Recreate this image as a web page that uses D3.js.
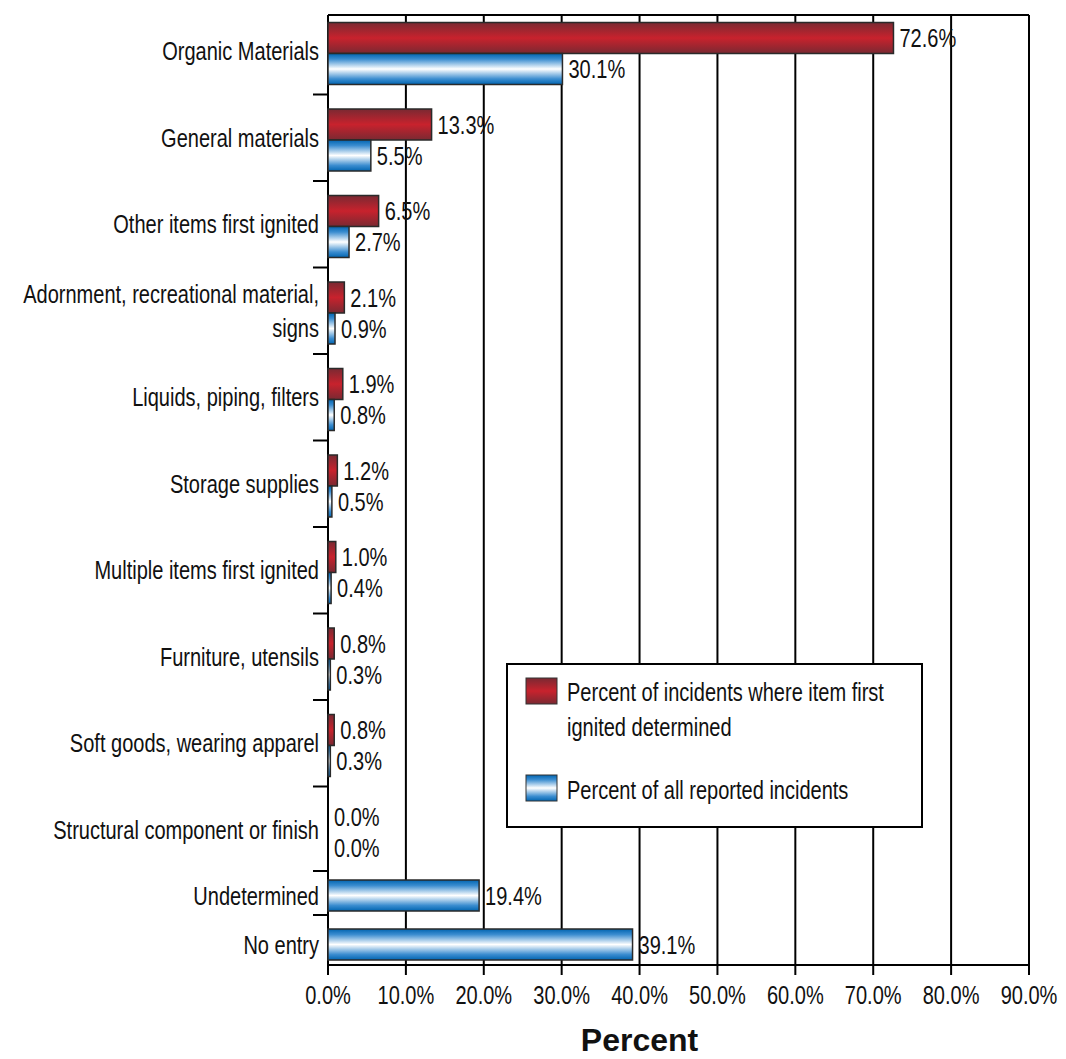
<!DOCTYPE html>
<html>
<head>
<meta charset="utf-8">
<script src="https://cdn.jsdelivr.net/npm/d3@7"></script>
<style>
  html, body { margin: 0; padding: 0; background: #fff; }
  svg { display: block; }
  text { font-family: 'Liberation Sans', Arial, sans-serif; fill: #111; }
</style>
</head>
<body>
<svg id="chart" width="1066" height="1059"></svg>
<script>
// Item first ignited, grouped by category
const categories = [
  "Organic Materials",
  "General materials",
  "Other items first ignited",
  "Adornment, recreational material,\nsigns",
  "Liquids, piping, filters",
  "Storage supplies",
  "Multiple items first ignited",
  "Furniture, utensils",
  "Soft goods, wearing apparel",
  "Structural component or finish"
];
const pctDetermined = [72.6, 13.3, 6.5, 2.1, 1.9, 1.2, 1.0, 0.8, 0.8, 0.0];
const pctAllReported = [30.1, 5.5, 2.7, 0.9, 0.8, 0.5, 0.4, 0.3, 0.3, 0.0];

// Rows that only have a share of all reported incidents
const otherCategories = ["Undetermined", "No entry"];
const otherAllReported = [19.4, 39.1];

const xTicks = [0, 10, 20, 30, 40, 50, 60, 70, 80, 90];
const seriesNames = [
  "Percent of incidents where item first\nignited determined",
  "Percent of all reported incidents"
];
const axisTitle = "Percent";

const svg = d3.select("#chart");
const plotLeft = 328, plotRight = 1029, plotTop = 15, plotBottom = 965;
const barH = 31;
const fs = 26;         // label font size
const narrow = 0.77;   // horizontal squeeze for the condensed lettering

const x = d3.scaleLinear().domain([0, 90]).range([plotLeft, plotRight]);
const y = d3.scaleBand().domain(categories).range([8, 873]);
const yOther = d3.scaleBand().domain(otherCategories).range([871, 969]);

// Place condensed text at (px, py)
function placeText(sel, px, py) {
  return sel.attr("transform", (d, i) => {
    const tx = typeof px === "function" ? px(d, i) : px;
    const ty = typeof py === "function" ? py(d, i) : py;
    return `translate(${tx},${ty}) scale(${narrow},1)`;
  }).attr("font-size", fs);
}

// Gradients for the bar fills
const defs = svg.append("defs");
function vGrad(id, stops) {
  const g = defs.append("linearGradient").attr("id", id)
    .attr("x1", 0).attr("y1", 0).attr("x2", 0).attr("y2", 1);
  stops.forEach(([o, c]) => g.append("stop").attr("offset", o).attr("stop-color", c));
}
vGrad("gradRed", [[0, "#7a2932"], [0.5, "#c8222d"], [1, "#7a2932"]]);
vGrad("gradBlue", [[0, "#0064b0"], [0.18, "#3b8dd0"], [0.5, "#ffffff"], [0.82, "#3b8dd0"], [1, "#0064b0"]]);

// Vertical gridlines
svg.append("g").selectAll("line").data(xTicks).join("line")
  .attr("x1", d => x(d)).attr("x2", d => x(d))
  .attr("y1", plotTop).attr("y2", plotBottom + 10)
  .attr("stroke", "#000").attr("stroke-width", 2);

// Top frame line
svg.append("line")
  .attr("x1", plotLeft).attr("x2", plotRight)
  .attr("y1", plotTop).attr("y2", plotTop)
  .attr("stroke", "#000").attr("stroke-width", 2);

// Bottom axis line + tick labels
svg.append("line")
  .attr("x1", plotLeft).attr("x2", plotRight)
  .attr("y1", plotBottom).attr("y2", plotBottom)
  .attr("stroke", "#000").attr("stroke-width", 2);
placeText(svg.append("g").selectAll("text").data(xTicks).join("text"), d => x(d), 1004)
  .attr("text-anchor", "middle")
  .text(d => d.toFixed(1) + "%");

// Left axis line and category separator ticks
svg.append("line")
  .attr("x1", plotLeft).attr("x2", plotLeft)
  .attr("y1", plotTop).attr("y2", plotBottom + 10)
  .attr("stroke", "#000").attr("stroke-width", 2);
const sepYs = categories.slice(1).map(c => y(c))
  .concat([yOther(otherCategories[0]), yOther(otherCategories[1]) - 5]);
svg.append("g").selectAll("line").data(sepYs).join("line")
  .attr("x1", plotLeft - 15).attr("x2", plotLeft)
  .attr("y1", d => d).attr("y2", d => d)
  .attr("stroke", "#000").attr("stroke-width", 2);

// Legend
const lg = svg.append("g");
lg.append("rect").attr("x", 507).attr("y", 664).attr("width", 415).attr("height", 163)
  .attr("fill", "#fff").attr("stroke", "#000").attr("stroke-width", 2);
lg.append("rect").attr("x", 526).attr("y", 678).attr("width", 31).attr("height", 26)
  .attr("fill", "url(#gradRed)").attr("stroke", "#333").attr("stroke-width", 1);
lg.append("rect").attr("x", 526).attr("y", 775).attr("width", 31).attr("height", 26)
  .attr("fill", "url(#gradBlue)").attr("stroke", "#333").attr("stroke-width", 1);
seriesNames[0].split("\n").forEach((t, i) => {
  placeText(lg.append("text"), 567, 701 + i * 35).text(t);
});
placeText(lg.append("text"), 567, 799).text(seriesNames[1]);

// Bars for the main categories
const rows = categories.map((c, i) => ({ c, det: pctDetermined[i], all: pctAllReported[i] }));
const gMain = svg.append("g");
const redY = d => y(d.c) + 14.5;
const blueY = d => y(d.c) + 14.5 + barH;

gMain.selectAll("rect.det").data(rows).join("rect").attr("class", "det")
  .attr("x", x(0)).attr("y", redY)
  .attr("width", d => x(d.det) - x(0)).attr("height", barH)
  .attr("fill", "url(#gradRed)")
  .attr("stroke", d => d.det > 0 ? "#2a2a2a" : "none").attr("stroke-width", 1.5);
gMain.selectAll("rect.all").data(rows).join("rect").attr("class", "all")
  .attr("x", x(0)).attr("y", blueY)
  .attr("width", d => x(d.all) - x(0)).attr("height", barH)
  .attr("fill", "url(#gradBlue)")
  .attr("stroke", d => d.all > 0 ? "#2a2a2a" : "none").attr("stroke-width", 1.5);

placeText(gMain.selectAll("text.det").data(rows).join("text").attr("class", "det"),
    d => x(d.det) + 6, d => redY(d) + barH / 2)
  .attr("dy", "0.35em")
  .text(d => d.det.toFixed(1) + "%");
placeText(gMain.selectAll("text.all").data(rows).join("text").attr("class", "all"),
    d => x(d.all) + 6, d => blueY(d) + barH / 2)
  .attr("dy", "0.35em")
  .text(d => d.all.toFixed(1) + "%");

// Category labels
const catLabels = svg.append("g");
rows.forEach(d => {
  const lines = d.c.split("\n");
  const cy = y(d.c) + y.bandwidth() / 2;
  lines.forEach((t, i) => {
    placeText(catLabels.append("text"), 319, cy + (i - (lines.length - 1) / 2) * 34)
      .attr("dy", "0.35em").attr("text-anchor", "end")
      .text(t);
  });
});

// Single-series rows
const otherRows = otherCategories.map((c, i) => ({ c, all: otherAllReported[i] }));
const oy = d => yOther(d.c) + (yOther.bandwidth() - barH) / 2;
svg.append("g").selectAll("rect").data(otherRows).join("rect")
  .attr("x", x(0)).attr("y", oy)
  .attr("width", d => x(d.all) - x(0)).attr("height", barH)
  .attr("fill", "url(#gradBlue)").attr("stroke", "#2a2a2a").attr("stroke-width", 1.5);
placeText(svg.append("g").selectAll("text").data(otherRows).join("text"),
    d => x(d.all) + 6, d => oy(d) + barH / 2)
  .attr("dy", "0.35em")
  .text(d => d.all.toFixed(1) + "%");
placeText(svg.append("g").selectAll("text").data(otherRows).join("text"),
    319, d => oy(d) + barH / 2)
  .attr("dy", "0.35em").attr("text-anchor", "end")
  .text(d => d.c);

// Axis title
svg.append("text")
  .attr("x", x(40)).attr("y", 1051)
  .attr("text-anchor", "middle")
  .attr("font-size", 32).attr("font-weight", "bold")
  .text(axisTitle);
</script>
</body>
</html>
